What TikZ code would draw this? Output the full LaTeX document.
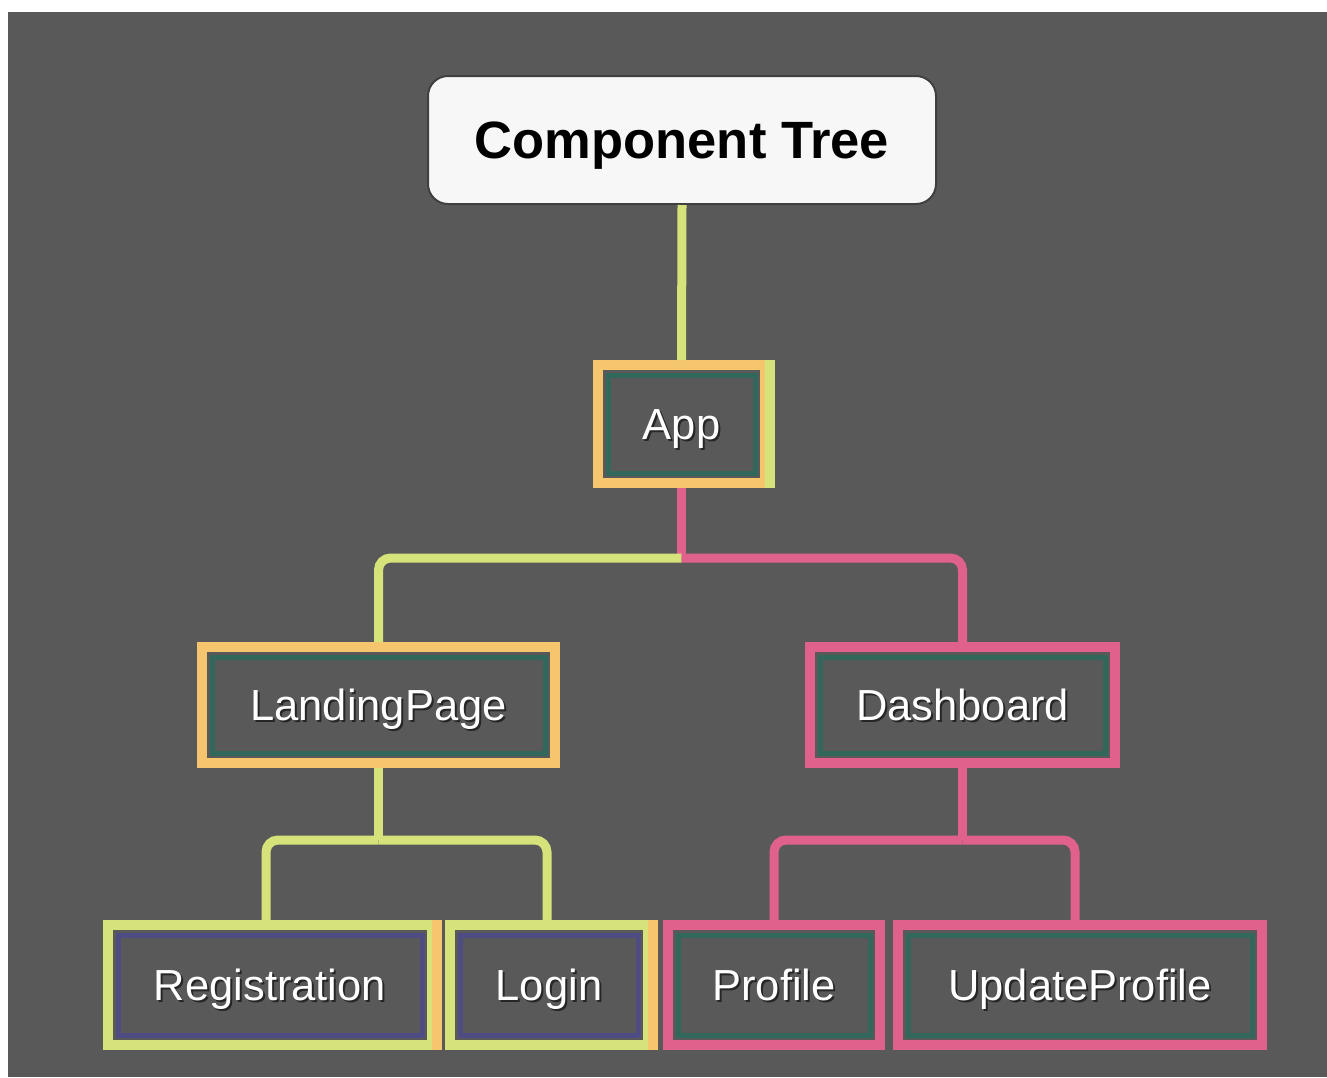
\documentclass[tikz,border=0pt]{standalone}
\usepackage{fontspec}
\setmainfont{Liberation Sans}
\definecolor{bg}{HTML}{595959}
\definecolor{limec}{HTML}{D6E37A}
\definecolor{orangec}{HTML}{F5C66E}
\definecolor{pinkc}{HTML}{E0628C}
\definecolor{tealc}{HTML}{2E6A5C}
\definecolor{purplec}{HTML}{4E4B88}
\definecolor{titlefill}{HTML}{F7F7F7}
\newcommand\halo[1]{\makebox[0pt][l]{\hspace{2pt}\raisebox{-2pt}{\color{black!85}#1}}#1}
\begin{document}
\begin{tikzpicture}[x=1pt,y=-1pt,
  comp/.style={rectangle, line width=10pt, inner sep=0pt, text=white,
    font=\fontsize{43.5}{50}\selectfont, text height=31pt, text depth=0pt,
    minimum height=118pt},
  conn/.style={line width=9pt, rounded corners=12pt},
  inner/.style={line width=5pt, opacity=0.9}]
\useasboundingbox (0,0) rectangle (1327,1077);
\fill[white] (0,0) rectangle (1327,1077);
\fill[bg] (8,12) rectangle (1327,1077);

% title
\node[draw=black!75, line width=2pt, fill=titlefill, rounded corners=20pt,
  minimum width=508pt, minimum height=128pt, inner sep=0pt,
  text height=37.6pt, text depth=0pt,
  font=\fontsize{52.5}{60}\selectfont\bfseries] (title) at (682,140) {Component Tree};

% component nodes
\node[comp, draw=orangec, minimum width=167pt] (app) at (681.5,424) {\halo{App}};
\node[comp, draw=orangec, minimum width=353pt, minimum height=116pt] (landing) at (378.5,705) {\halo{LandingPage}};
\node[comp, draw=pinkc, minimum width=305pt, minimum height=116pt] (dash) at (962.5,705) {\halo{Dashboard}};
\node[comp, draw=limec, minimum width=324pt, minimum height=120pt] (reg) at (270,985) {\halo{Registration}};
\node[comp, draw=limec, minimum width=198pt, minimum height=120pt] (login) at (549,985) {\halo{Login}};
\node[comp, draw=pinkc, minimum width=212pt, minimum height=120pt] (prof) at (774,985) {\halo{Profile}};
\node[comp, draw=pinkc, minimum width=364pt, minimum height=120pt] (upd) at (1080,985) {\halo{UpdateProfile}};

% mixed edge colours
\draw[line width=10pt, limec] (app.north east) -- (app.south east);
\draw[line width=10pt, orangec] (reg.north east) -- (reg.south east);
\draw[line width=10pt, orangec] (login.north east) -- (login.south east);

% inner lines
\foreach \n/\c in {app/tealc, landing/tealc, dash/tealc, prof/tealc, upd/tealc, reg/purplec, login/purplec}{
  \draw[inner, \c] ([shift={(15,15)}]\n.north west) rectangle ([shift={(-15,-15)}]\n.south east);
}

% junctions
\coordinate (j1) at (681.5,558);
\coordinate (j2) at (378.5,840);
\coordinate (j3) at (962.5,840);

% connectors
\draw[conn, limec] (title.south) -- (app.north);
\draw[conn, pinkc] (app.south) -- (j1);
\draw[conn, limec] (j1) -| (landing.north);
\draw[conn, pinkc] (j1) -| (dash.north);
\draw[conn, limec] (landing.south) -- (j2);
\draw[conn, limec] (j2) -| ([xshift=-4pt]reg.north);
\draw[conn, limec] (j2) -| ([xshift=-2pt]login.north);
\draw[conn, pinkc] (dash.south) -- (j3);
\draw[conn, pinkc] (j3) -| (prof.north);
\draw[conn, pinkc] (j3) -| ([xshift=-5pt]upd.north);
\end{tikzpicture}
\end{document}
